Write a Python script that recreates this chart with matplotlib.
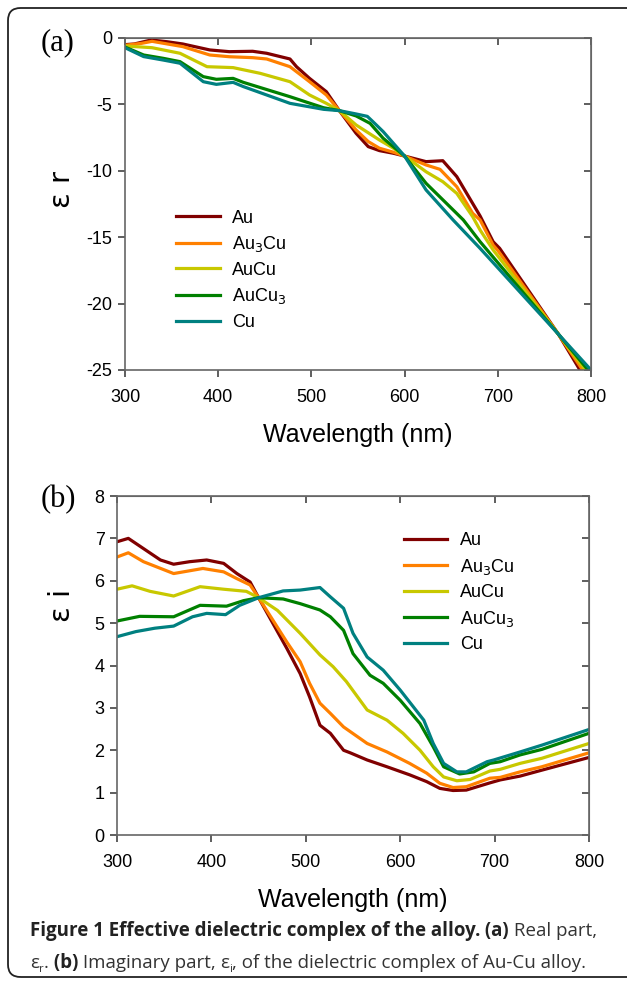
import matplotlib
matplotlib.use("Agg")
import matplotlib.pyplot as plt
from matplotlib.patches import FancyBboxPatch
from matplotlib.ticker import FixedLocator

plt.rcParams['font.family'] = ['Liberation Sans', 'DejaVu Sans']
plt.rcParams['axes.unicode_minus'] = False

labels = ['Au', 'Au$_3$Cu', 'AuCu', 'AuCu$_3$', 'Cu']
colors = ['#800000', '#ff8000', '#c8c800', '#008000', '#008080']

# (a) real part
wl_r_au = [300, 310, 328, 345, 362, 391, 412, 437, 452, 477, 484, 498, 516, 530, 548, 561, 573, 588, 600, 623, 641, 656, 681, 695, 702, 765, 789]
er_au = [-0.5, -0.45, -0.15, -0.28, -0.45, -0.9, -1.03, -1.0, -1.15, -1.58, -2.16, -3.04, -4.04, -5.47, -7.18, -8.18, -8.48, -8.68, -8.89, -9.31, -9.24, -10.44, -13.4, -15.34, -15.84, -22.3, -25.1]
wl_r_au3cu = [300, 318, 329, 362, 391, 412, 437, 452, 477, 498, 516, 530, 548, 561, 573, 588, 600, 623, 638, 656, 673, 681, 695, 700, 765, 792]
er_au3cu = [-0.55, -0.4, -0.25, -0.65, -1.28, -1.41, -1.48, -1.58, -2.16, -3.29, -4.29, -5.47, -6.93, -7.8, -8.3, -8.6, -8.89, -9.56, -9.89, -11.2, -13.2, -13.7, -15.6, -16.0, -22.3, -25.1]
wl_r_aucu = [300, 329, 359, 388, 416, 445, 477, 498, 516, 530, 548, 573, 588, 600, 623, 641, 656, 673, 681, 695, 765, 795]
er_aucu = [-0.6, -0.73, -1.15, -2.16, -2.23, -2.66, -3.29, -4.29, -4.92, -5.47, -6.55, -7.68, -8.3, -8.89, -10.07, -10.82, -11.7, -13.45, -14.46, -15.96, -22.3, -25.1]
wl_r_aucu3 = [300, 320, 341, 359, 384, 398, 416, 427, 477, 513, 530, 548, 563, 577, 600, 623, 663, 681, 765, 798]
er_aucu3 = [-0.68, -1.28, -1.53, -1.78, -2.91, -3.11, -3.04, -3.34, -4.42, -5.25, -5.47, -5.87, -6.43, -7.55, -8.89, -10.94, -13.7, -15.34, -22.3, -25.1]
wl_r_cu = [300, 320, 341, 359, 384, 398, 416, 427, 477, 513, 530, 548, 560, 566, 577, 600, 623, 652, 681, 765, 800]
er_cu = [-0.73, -1.4, -1.66, -1.9, -3.29, -3.49, -3.34, -3.66, -4.92, -5.37, -5.47, -5.72, -5.9, -6.3, -7.05, -8.89, -11.44, -13.7, -15.84, -22.3, -25.0]

# (b) imaginary part
wl_i_au = [300, 312, 328, 346, 360, 377, 395, 413, 427, 441, 450, 460, 470, 480, 494, 504, 515, 526, 540, 547, 565, 586, 610, 628, 642, 656, 670, 695, 706, 727, 750, 800]
ei_au = [6.92, 7.0, 6.76, 6.49, 6.39, 6.45, 6.49, 6.41, 6.17, 5.97, 5.6, 5.2, 4.8, 4.4, 3.81, 3.26, 2.59, 2.4, 2.0, 1.94, 1.77, 1.61, 1.42, 1.26, 1.1, 1.05, 1.06, 1.23, 1.3, 1.39, 1.53, 1.83]
wl_i_au3cu = [300, 312, 328, 360, 391, 413, 427, 441, 450, 460, 470, 480, 494, 504, 515, 526, 540, 565, 586, 610, 628, 642, 656, 670, 695, 706, 727, 750, 800]
ei_au3cu = [6.56, 6.66, 6.45, 6.17, 6.29, 6.21, 6.05, 5.9, 5.6, 5.25, 4.9, 4.55, 4.09, 3.58, 3.11, 2.87, 2.55, 2.16, 1.96, 1.69, 1.46, 1.22, 1.12, 1.14, 1.34, 1.36, 1.49, 1.61, 1.94]
wl_i_aucu = [300, 316, 335, 360, 388, 413, 437, 450, 470, 494, 515, 529, 543, 565, 586, 603, 621, 635, 646, 660, 674, 695, 706, 727, 750, 800]
ei_aucu = [5.8, 5.88, 5.75, 5.64, 5.86, 5.8, 5.75, 5.6, 5.3, 4.76, 4.25, 3.97, 3.62, 2.95, 2.71, 2.4, 2.0, 1.61, 1.37, 1.28, 1.31, 1.51, 1.55, 1.69, 1.81, 2.16]
wl_i_aucu3 = [300, 324, 360, 388, 416, 434, 450, 476, 494, 515, 526, 540, 550, 568, 582, 600, 621, 635, 646, 663, 678, 695, 706, 727, 750, 800]
ei_aucu3 = [5.05, 5.16, 5.15, 5.42, 5.4, 5.53, 5.6, 5.57, 5.46, 5.31, 5.15, 4.83, 4.28, 3.77, 3.58, 3.18, 2.63, 2.08, 1.61, 1.44, 1.49, 1.69, 1.73, 1.89, 2.02, 2.4]
wl_i_cu = [300, 320, 340, 360, 380, 395, 415, 430, 450, 476, 494, 515, 526, 540, 550, 565, 582, 600, 625, 635, 646, 660, 670, 692, 699, 727, 750, 800]
ei_cu = [4.68, 4.8, 4.88, 4.93, 5.15, 5.23, 5.2, 5.42, 5.6, 5.76, 5.78, 5.84, 5.62, 5.35, 4.76, 4.2, 3.89, 3.42, 2.71, 2.16, 1.69, 1.49, 1.49, 1.73, 1.77, 1.96, 2.12, 2.49]

real_wl = [wl_r_au, wl_r_au3cu, wl_r_aucu, wl_r_aucu3, wl_r_cu]
real_e = [er_au, er_au3cu, er_aucu, er_aucu3, er_cu]
imag_wl = [wl_i_au, wl_i_au3cu, wl_i_aucu, wl_i_aucu3, wl_i_cu]
imag_e = [ei_au, ei_au3cu, ei_aucu, ei_aucu3, ei_cu]

W, H = 627, 983
fig = plt.figure(figsize=(W / 100, H / 100), dpi=100)

# frame around the figure
frame = FancyBboxPatch((8 / W, 6 / H), 640 / W, 969 / H, transform=fig.transFigure,
                       boxstyle="round,pad=0,rounding_size=0.02", fc='none', ec='#222222',
                       lw=1.3, mutation_aspect=W / H)
fig.patches.append(frame)


def style_axes(ax, yticks):
    for s in ax.spines.values():
        s.set_color('#666666')
        s.set_linewidth(1.2)
    ax.set_xlim(300, 800)
    ax.xaxis.set_major_locator(FixedLocator([300, 400, 500, 600, 700, 800]))
    ax.yaxis.set_major_locator(FixedLocator(yticks))
    ax.set_xticklabels([str(v) for v in [300, 400, 500, 600, 700, 800]])
    ax.set_yticklabels([str(v) for v in yticks])
    ax.tick_params(axis='both', which='both', direction='out', length=5, width=1.1,
                   color='#333333', labelsize=13, pad=4)
    ax.tick_params(axis='x', pad=9)
    # inward ticks on top and right
    top = ax.secondary_xaxis('top')
    top.set_xticks([300, 400, 500, 600, 700, 800])
    top.tick_params(direction='in', length=5, width=1.1, color='#333333', labeltop=False)
    top.spines['top'].set_color('#666666')
    right = ax.secondary_yaxis('right')
    right.set_yticks(yticks)
    right.tick_params(direction='in', length=5, width=1.1, color='#333333', labelright=False)
    right.spines['right'].set_color('#666666')
    ax.set_xlabel('Wavelength (nm)', fontsize=18, labelpad=12)


# panel (a)
ax1 = fig.add_axes([125 / W, 1 - 370 / H, 466 / W, 332 / H])
for x, y, c, lab in zip(real_wl, real_e, colors, labels):
    ax1.plot(x, y, color=c, lw=2.3, label=lab, solid_joinstyle='round')
ax1.set_ylim(-25, 0)
style_axes(ax1, [0, -5, -10, -15, -20, -25])
ax1.legend(loc='upper left', bbox_to_anchor=(0.095, 0.505), frameon=False, fontsize=13,
           handlelength=2.4, handletextpad=0.7, labelspacing=0.42, borderaxespad=0)
fig.text(62 / W, 1 - 190 / H, 'ε r', rotation=90, fontsize=21, ha='center', va='center',
         family=['DejaVu Sans'])
fig.text(41 / W, 1 - 43 / H, '(a)', fontsize=22, family=['Liberation Serif'], ha='left', va='center')

# panel (b)
ax2 = fig.add_axes([117 / W, 1 - 835 / H, 472 / W, 339 / H])
for x, y, c, lab in zip(imag_wl, imag_e, colors, labels):
    ax2.plot(x, y, color=c, lw=2.3, label=lab, solid_joinstyle='round')
ax2.set_ylim(0, 8)
style_axes(ax2, [0, 1, 2, 3, 4, 5, 6, 7, 8])
ax2.legend(loc='upper left', bbox_to_anchor=(0.593, 0.915), frameon=False, fontsize=13,
           handlelength=2.4, handletextpad=0.7, labelspacing=0.42, borderaxespad=0)
fig.text(62 / W, 1 - 605 / H, 'ε i', rotation=90, fontsize=21, ha='center', va='center',
         family=['DejaVu Sans'])
fig.text(41 / W, 1 - 500 / H, '(b)', fontsize=22, family=['Liberation Serif'], ha='left', va='center')

# caption, built from bold / regular pieces
cap_lines = [
    [('Figure 1 Effective dielectric complex of the alloy.', 'bold'), (' (a)', 'bold'), (' Real part,', 'normal')],
    [('ε', 'normal'), ('r', 'sub'), ('.', 'normal'), (' (b)', 'bold'), (' Imaginary part, ', 'normal'),
     ('ε', 'normal'), ('i', 'sub'), (', of the dielectric complex of Au-Cu alloy.', 'normal')],
]
cap_y = [936, 968]
renderer = fig.canvas.get_renderer()


def draw_caption(csize, draw=True):
    widths = []
    made = []
    for line, yy in zip(cap_lines, cap_y):
        xpos = 30
        for txt, kind in line:
            if kind == 'sub':
                t = fig.text(xpos / W, 1 - (yy + 4) / H, txt, fontsize=csize * 0.6, color='#333333',
                             family=['Open Sans', 'DejaVu Sans'], va='baseline')
            else:
                t = fig.text(xpos / W, 1 - yy / H, txt, fontsize=csize,
                             color='#222222' if kind == 'bold' else '#333333',
                             fontweight=kind, family=['Open Sans', 'DejaVu Sans'], va='baseline')
            made.append(t)
            xpos += t.get_window_extent(renderer).width
        widths.append(xpos - 30)
    if not draw:
        for t in made:
            t.remove()
    return widths


w0 = draw_caption(12.0, draw=False)[0]
draw_caption(12.0 * 567 / w0)

fig.savefig('out.png', dpi=100)
